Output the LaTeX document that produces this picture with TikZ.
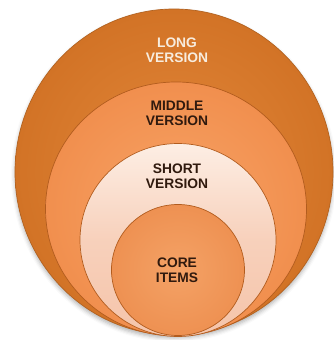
\documentclass[tikz,border=0pt]{standalone}
\usepackage{fontspec}
\setmainfont{Liberation Sans}
\usetikzlibrary{shapes.geometric,shadows.blur}
\definecolor{longC}{RGB}{210,115,38}
\definecolor{longL}{RGB}{226,135,58}
\definecolor{midC}{RGB}{241,143,78}
\definecolor{midL}{RGB}{247,163,102}
\definecolor{shortC}{RGB}{245,196,170}
\definecolor{shortL}{RGB}{253,238,228}
\definecolor{coreC}{RGB}{238,145,82}
\definecolor{coreL}{RGB}{244,162,102}
\definecolor{rimC}{RGB}{178,92,30}
\definecolor{darkTxt}{RGB}{48,26,14}
\definecolor{lightTxt}{RGB}{247,236,222}
\tikzset{
  ring/.style={ellipse, inner sep=0pt, draw=rimC, line width=0.7pt},
  lbl/.style={align=center, font=\fontsize{13.8}{15}\selectfont\bfseries, text=darkTxt}
}
\begin{document}
\begin{tikzpicture}[x=1pt,y=-1pt]
  \useasboundingbox (0,0) rectangle (334,340);
  % nested rings, all touching at the bottom
  \node[ring, minimum width=318pt, minimum height=326pt,
        inner color=longL, outer color=longC, draw=longC!85!black,
        blur shadow={shadow xshift=0pt, shadow yshift=-3pt, shadow blur radius=4pt, shadow opacity=30}]
        (long) at (174,172) {};
  \node[ring, minimum width=261pt, minimum height=254pt,
        inner color=midL, outer color=midC] (middle) at (176,209) {};
  \node[ring, minimum width=196pt, minimum height=193pt,
        top color=shortL, bottom color=shortC, middle color=shortC!70!shortL] (short) at (178,240) {};
  \node[ring, minimum width=133pt, minimum height=131pt,
        inner color=coreL, outer color=coreC] (core) at (178,270) {};
  % labels
  \node[lbl, text=lightTxt] (tLong) at (177,50) {LONG\\VERSION};
  \node[lbl] (tMid) at (177,113) {MIDDLE\\VERSION};
  \node[lbl] (tShort) at (177,176) {SHORT\\VERSION};
  \node[lbl] (tCore) at (177,270) {CORE\\ITEMS};
\end{tikzpicture}
\end{document}
